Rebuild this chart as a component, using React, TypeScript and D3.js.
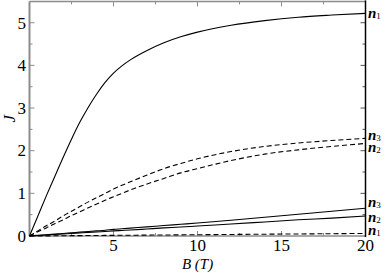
import React, { useEffect, useRef } from 'react';
import * as d3 from 'd3';

// magnetic field values (T)
const B = [0, 0.5, 1, 1.5, 2, 2.5, 3, 3.5, 4, 4.5, 5, 5.5, 6, 7, 8, 9, 10, 12, 14, 16, 18, 20];

// solid curves
const solidN1 = [0, 0.47, 0.94, 1.39, 1.84, 2.27, 2.67, 3.02, 3.33, 3.6, 3.82, 3.99, 4.13, 4.35, 4.53, 4.67, 4.78, 4.94, 5.05, 5.13, 5.18, 5.22];
const solidN3 = [0, 0.015, 0.03, 0.045, 0.06, 0.075, 0.09, 0.105, 0.12, 0.135, 0.155, 0.17, 0.185, 0.215, 0.245, 0.275, 0.305, 0.37, 0.44, 0.51, 0.58, 0.65];
const solidN2 = [0, 0.012, 0.024, 0.036, 0.048, 0.06, 0.072, 0.084, 0.095, 0.107, 0.12, 0.13, 0.14, 0.165, 0.19, 0.21, 0.235, 0.28, 0.33, 0.38, 0.42, 0.47];

// dashed curves
const dashN3 = [0, 0.12, 0.24, 0.35, 0.47, 0.58, 0.69, 0.8, 0.9, 1.0, 1.1, 1.19, 1.27, 1.43, 1.58, 1.7, 1.81, 1.98, 2.1, 2.18, 2.24, 2.29];
const dashN2 = [0, 0.1, 0.19, 0.29, 0.38, 0.48, 0.57, 0.66, 0.75, 0.84, 0.92, 1.0, 1.08, 1.22, 1.35, 1.48, 1.58, 1.77, 1.92, 2.02, 2.1, 2.17];
const dashN1 = [0, 0.002, 0.003, 0.005, 0.006, 0.008, 0.009, 0.011, 0.012, 0.014, 0.015, 0.017, 0.018, 0.021, 0.024, 0.027, 0.03, 0.036, 0.042, 0.048, 0.054, 0.06];

const xTicks = [5, 10, 15, 20];
const yTicks = [0, 1, 2, 3, 4, 5];

const series = [
  { values: solidN1, dashed: false, sub: '1' },
  { values: dashN3, dashed: true, sub: '3' },
  { values: dashN2, dashed: true, sub: '2' },
  { values: solidN3, dashed: false, sub: '3' },
  { values: solidN2, dashed: false, sub: '2' },
  { values: dashN1, dashed: true, sub: '1' },
];

// label baseline offsets from each curve end
const labelDy = [5, 2, 9, -1, 6, 2];

const FONT = "'Liberation Serif', 'DejaVu Serif', 'Times New Roman', Times, serif";

export default function App() {
  const ref = useRef<SVGSVGElement>(null);

  useEffect(() => {
    const svg = d3.select(ref.current);
    svg.selectAll('*').remove();
    const left = 29.5, right = 365.5, top = 1.4, bottom = 236;
    const x = d3.scaleLinear().domain([0, 20]).range([left, right]);
    const y = d3.scaleLinear().domain([0, 5.5]).range([bottom, top]);
    const gray = '#8c8c8c';

    // frame
    svg.append('line').attr('x1', left).attr('x2', right).attr('y1', top).attr('y2', top)
      .attr('stroke', gray).attr('stroke-width', 1.5);
    svg.append('line').attr('x1', left).attr('x2', right).attr('y1', bottom).attr('y2', bottom)
      .attr('stroke', gray).attr('stroke-width', 1.5);
    svg.append('line').attr('x1', left).attr('x2', left).attr('y1', top).attr('y2', bottom)
      .attr('stroke', gray).attr('stroke-width', 2);

    // x ticks (bottom and top), every 2.5
    d3.range(2.5, 20, 2.5).forEach(v => {
      const len = v % 5 === 0 ? 5 : 3;
      svg.append('line').attr('x1', x(v)).attr('x2', x(v)).attr('y1', bottom).attr('y2', bottom - len)
        .attr('stroke', gray).attr('stroke-width', 1);
      svg.append('line').attr('x1', x(v)).attr('x2', x(v)).attr('y1', top).attr('y2', top + len)
        .attr('stroke', gray).attr('stroke-width', 1);
    });
    // y ticks (left and right), every 0.5
    d3.range(0.5, 5.5, 0.5).forEach(v => {
      const len = Math.abs(v % 1) < 1e-9 ? 5 : 3;
      svg.append('line').attr('x1', left).attr('x2', left + len).attr('y1', y(v)).attr('y2', y(v))
        .attr('stroke', gray).attr('stroke-width', 1);
      svg.append('line').attr('x1', right).attr('x2', right - len).attr('y1', y(v)).attr('y2', y(v))
        .attr('stroke', '#555').attr('stroke-width', 1);
    });
    svg.append('line').attr('x1', right).attr('x2', right).attr('y1', top - 1).attr('y2', bottom + 1)
      .attr('stroke', 'black').attr('stroke-width', 1.5);

    // tick labels
    svg.append('g').selectAll('text').data(xTicks).enter().append('text')
      .attr('x', d => x(d)).attr('y', 251).attr('text-anchor', 'middle')
      .style('font-family', FONT).style('font-size', '17px').text(d => d);
    svg.append('g').selectAll('text').data(yTicks).enter().append('text')
      .attr('x', 26).attr('y', d => y(d)).attr('dy', '0.34em').attr('text-anchor', 'end')
      .style('font-family', FONT).style('font-size', '17px').text(d => d);

    // axis titles
    svg.append('text').attr('x', (left + right) / 2).attr('y', 269).attr('text-anchor', 'middle')
      .style('font-family', FONT).style('font-size', '15px').style('font-style', 'italic').text('B (T)');
    svg.append('text').attr('transform', `translate(15,${y(2.75)}) rotate(-90)`).attr('text-anchor', 'middle')
      .style('font-family', FONT).style('font-size', '17px').style('font-style', 'italic').text('J');

    // curves
    const line = d3.line<number>()
      .x((_, i) => x(B[i]))
      .y(d => y(d))
      .curve(d3.curveMonotoneX);
    svg.append('g').selectAll('path').data(series).enter().append('path')
      .attr('d', d => line(d.values))
      .attr('fill', 'none')
      .attr('stroke', 'black')
      .attr('stroke-width', 1.1)
      .attr('stroke-dasharray', d => (d.dashed ? '5,3' : null));

    // right-side labels
    series.forEach((s, i) => {
      const t = svg.append('text')
        .attr('x', 368).attr('y', y(s.values[s.values.length - 1]) + labelDy[i])
        .style('font-family', FONT).style('font-size', '15px');
      t.append('tspan').style('font-weight', 'bold').style('font-style', 'italic').text('n');
      t.append('tspan').style('font-size', '9px').attr('dy', 1).text(s.sub);
    });
  }, []);

  return (
    <svg ref={ref} width={391} height={273}
      style={{ position: 'absolute', left: 0, top: 0, background: 'white' }} />
  );
}
